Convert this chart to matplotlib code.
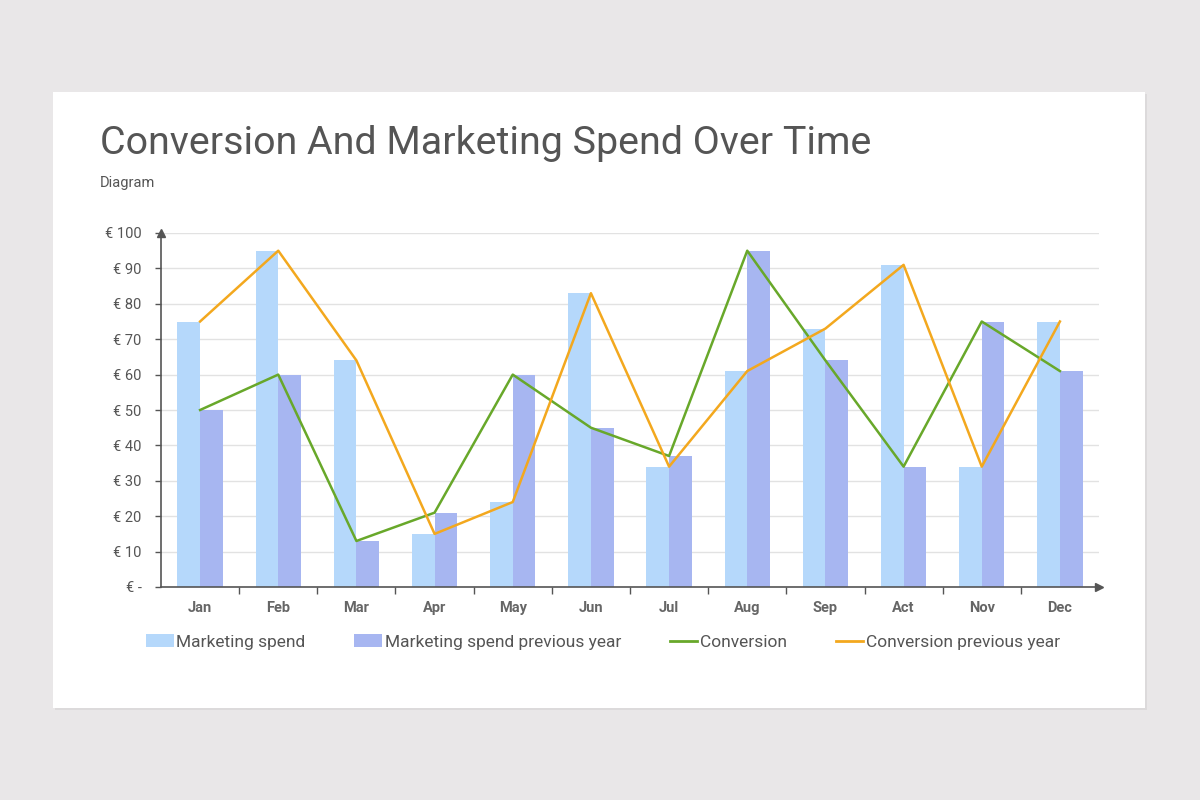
import matplotlib
matplotlib.use("Agg")
import matplotlib.pyplot as plt
from matplotlib.patches import Rectangle, Patch
from matplotlib.lines import Line2D
import numpy as np

plt.rcParams['font.family'] = ['Roboto', 'DejaVu Sans']

months = ["Jan", "Feb", "Mar", "Apr", "May", "Jun", "Jul", "Aug", "Sep", "Act", "Nov", "Dec"]
marketing_spend = [75, 95, 64, 15, 24, 83, 34, 61, 73, 91, 34, 75]
marketing_spend_prev = [50, 60, 13, 21, 60, 45, 37, 95, 64, 34, 75, 61]
conversion = [50, 60, 13, 21, 60, 45, 37, 95, 64, 34, 75, 61]
conversion_prev = [75, 95, 64, 15, 24, 83, 34, 61, 73, 91, 34, 75]
y_ticks = [0, 10, 20, 30, 40, 50, 60, 70, 80, 90, 100]
y_labels = ["€ -"] + [f"€ {v}" for v in y_ticks[1:]]

c_light = "#b5d8fb"
c_dark = "#a7b6f1"
c_green = "#68a82a"
c_orange = "#f3a81e"
text_col = "#555555"

fig = plt.figure(figsize=(12, 8), dpi=100)
fig.patch.set_facecolor("#e9e7e8")
# shadow + card
fig.patches.append(Rectangle((53/1200+0.002, 1-708/800-0.003), (1145-53)/1200, (708-92)/800,
                             transform=fig.transFigure, facecolor="#dcdadb", edgecolor="none", zorder=-3))
fig.patches.append(Rectangle((53/1200, 1-708/800), (1145-53)/1200, (708-92)/800,
                             transform=fig.transFigure, facecolor="white", edgecolor="none", zorder=-2))

fig.text(100/1200, 1-143/800, "Conversion And Marketing Spend Over Time", fontsize=28.4,
         color=text_col, va="center", ha="left")
fig.text(100/1200, 1-183/800, "Diagram", fontsize=10.5, color=text_col, va="center", ha="left")

ax = fig.add_axes([161/1200, 1-587/800, (1099-161)/1200, (587-233)/800])
ax.set_zorder(1)
ax.set_facecolor("none")
x = np.arange(len(months))
w = 0.29
ax.bar(x - w/2, marketing_spend, width=w, color=c_light, zorder=2)
ax.bar(x + w/2, marketing_spend_prev, width=w, color=c_dark, zorder=2)
ax.plot(x, conversion, color=c_green, lw=1.8, zorder=3)
ax.plot(x, conversion_prev, color=c_orange, lw=1.8, zorder=3)

ax.set_xlim(-0.5, 11.5)
ax.set_ylim(0, 100)
ax.set_yticks(y_ticks)
ax.set_yticklabels(y_labels)
ax.set_xticks(x)
ax.set_xticklabels(months, fontweight="bold")
ax.set_xticks(np.arange(0.5, 11.5, 1), minor=True)
ax.tick_params(axis="x", which="major", length=0, pad=10, labelsize=10.5, labelcolor="#666666")
ax.tick_params(axis="x", which="minor", length=5, width=1, color="#555555", direction="out")
ax.tick_params(axis="y", length=4, width=1, color="#555555", pad=10, labelsize=10.5, labelcolor="#555555")
for s in ["top", "right"]:
    ax.spines[s].set_visible(False)
for s in ["left", "bottom"]:
    ax.spines[s].set_color("#555555")
    ax.spines[s].set_linewidth(1.2)
ax.grid(axis="y", color="#e2e2e2", lw=1, zorder=0)
ax.set_axisbelow(True)
ax.plot(1, 0, marker=">", transform=ax.transAxes, color="#555555", markersize=6, clip_on=False, zorder=4)
ax.plot(0, 1, marker="^", transform=ax.transAxes, color="#555555", markersize=6, clip_on=False, zorder=4)

handles = [Patch(facecolor=c_light, edgecolor="none"),
           Patch(facecolor=c_dark, edgecolor="none"),
           Line2D([], [], color=c_green, lw=2),
           Line2D([], [], color=c_orange, lw=2)]
labels = ["Marketing spend", "Marketing spend previous year", "Conversion", "Conversion previous year"]
leg = fig.legend(handles, labels, loc="center", bbox_to_anchor=(603/1200, 1-642/800), ncol=4,
                 frameon=False, fontsize=12.5, handlelength=1.6, handleheight=0.7,
                 handletextpad=0.15, columnspacing=2.8, labelcolor="#555555")

fig.savefig("out.png", dpi=100, facecolor=fig.get_facecolor())
